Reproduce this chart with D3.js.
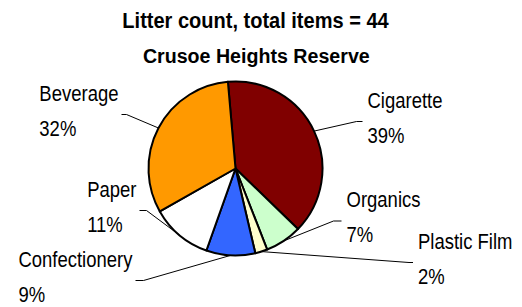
<!DOCTYPE html>
<html>
<head>
<meta charset="utf-8">
<script src="https://cdn.jsdelivr.net/npm/d3@7"></script>
<style>
  body { margin: 0; background: #fff; }
  svg { display: block; }
  text { font-family: "Liberation Sans", Arial, sans-serif; fill: #000; }
</style>
</head>
<body>
<svg id="chart"></svg>
<script>
// data
const categories = ["Cigarette", "Organics", "Plastic Film", "Confectionery", "Paper", "Beverage"];
const counts = [17, 3, 1, 4, 5, 14];
const siteName = "Crusoe Heights Reserve";

// styles / layout
const colors = ["#800000", "#ccffcc", "#ffffcc", "#3366ff", "#ffffff", "#ff9900"];
// elbow of each leader line relative to pie centre, and length of its flat end
const labelLayout = [
  { elbow: [121, -47], h: 6 },
  { elbow: [98, 52.5], h: 8 },
  { elbow: [173.5, 94], h: 4 },
  { elbow: [-92, 112], h: -8 },
  { elbow: [-89, 42], h: -7 },
  { elbow: [-109, -54], h: -5 }
];

const width = 522, height = 307;
const cx = 235.5, cy = 168.5, r = 87;
const labelSize = 21.5, labelScale = 0.86;

const total = d3.sum(counts);
const rows = categories.map((c, i) => ({ name: c, value: counts[i], i: i }));

const svg = d3.select("#chart").attr("width", width).attr("height", height);

// titles
svg.append("text")
  .attr("transform", "translate(255.5,28.3) scale(0.89,1)")
  .attr("text-anchor", "middle")
  .style("font-weight", "bold").style("font-size", "22.5px")
  .text("Litter count, total items = " + total);

svg.append("text")
  .attr("transform", "translate(256.3,62.7) scale(0.935,1)")
  .attr("text-anchor", "middle")
  .style("font-weight", "bold").style("font-size", "21px")
  .text(siteName);

const startA = -5 * Math.PI / 180;
const pie = d3.pie().sort(null).value(d => d.value)
  .startAngle(startA).endAngle(startA + 2 * Math.PI);
const arcs = pie(rows);
const arc = d3.arc().innerRadius(0).outerRadius(r);

const g = svg.append("g").attr("transform", `translate(${cx},${cy})`);

g.selectAll("path.slice")
  .data(arcs)
  .join("path")
    .attr("class", "slice")
    .attr("d", arc)
    .attr("fill", d => colors[d.data.i])
    .attr("stroke", "#000")
    .attr("stroke-width", 2)
    .attr("stroke-linejoin", "round");

// leader lines + labels
arcs.forEach(d => {
  const a = (d.startAngle + d.endAngle) / 2;
  const p0 = [r * Math.sin(a), -r * Math.cos(a)];
  const lay = labelLayout[d.data.i];
  const e = lay.elbow;
  const end = [e[0] + lay.h, e[1]];

  g.append("path")
    .attr("d", d3.line()([p0, e, end]))
    .attr("fill", "none")
    .attr("stroke", "#000")
    .attr("stroke-width", 1);

  const pct = Math.round(d.data.value / total * 100) + "%";
  const lines = [d.data.name, pct];
  const dys = [-14, 21];

  const texts = lines.map((t, k) => g.append("text")
    .style("font-size", labelSize + "px")
    .text(t));
  const blockW = d3.max(texts, t => t.node().getComputedTextLength()) * labelScale;
  const x0 = lay.h >= 0 ? end[0] + 5 : end[0] - 3 - blockW;
  texts.forEach((t, k) => {
    t.attr("transform", `translate(${x0},${e[1] + dys[k]}) scale(${labelScale},1)`);
  });
});
</script>
</body>
</html>
